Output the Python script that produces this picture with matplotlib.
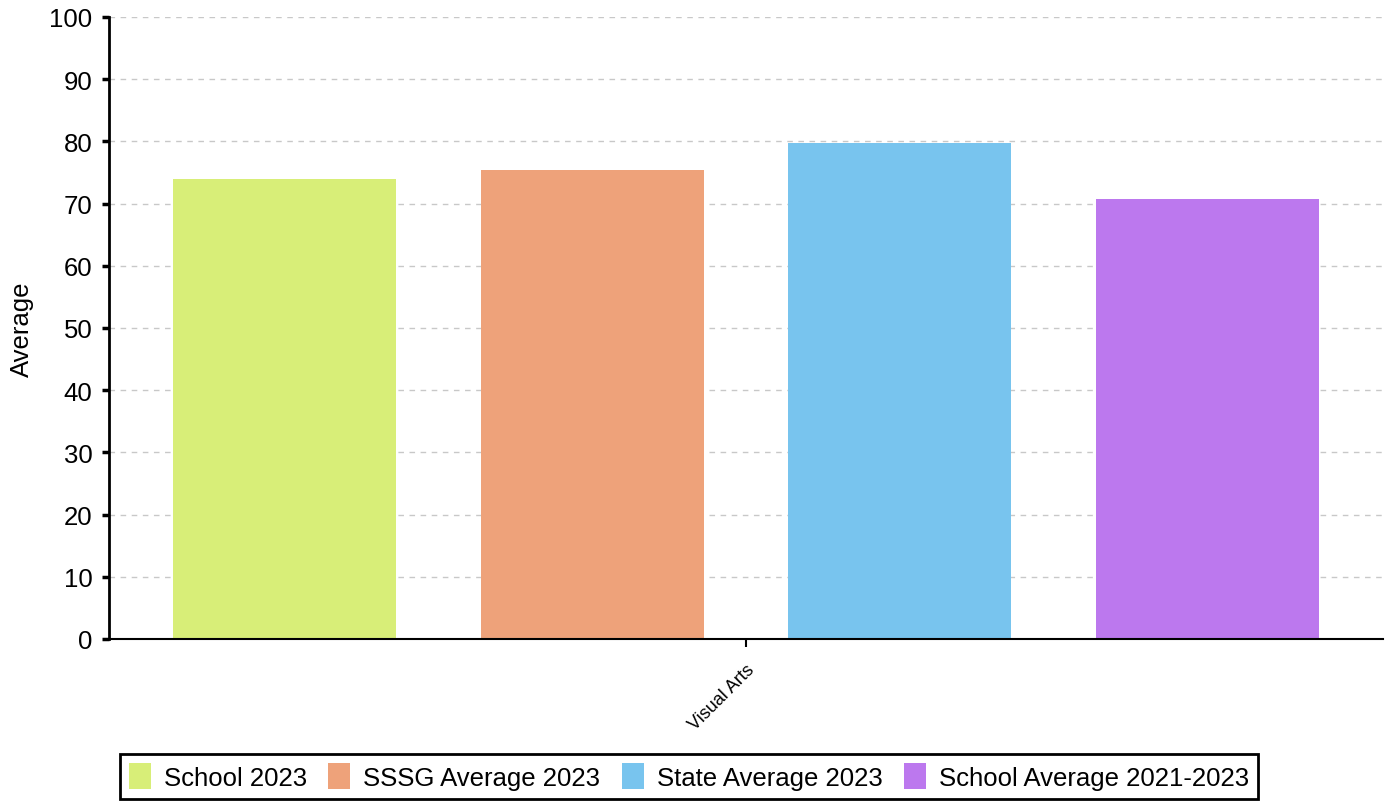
import matplotlib
matplotlib.use("Agg")
import matplotlib.pyplot as plt
import numpy as np

plt.rcParams['font.family'] = ['Liberation Sans', 'DejaVu Sans']

# data
subject = "Visual Arts"
series = ["School 2023", "SSSG Average 2023", "State Average 2023", "School Average 2021-2023"]
values = [74.0, 75.4, 79.7, 70.7]
colors = ["#D8EE78", "#EEA27A", "#78C4EE", "#BC78EE"]

fig = plt.figure(figsize=(13.91, 8.03), dpi=100)
ax = fig.add_axes([0.0784, 0.203, 0.9158, 0.7746])

x = np.arange(len(series))
for i in range(len(series)):
    ax.bar(x[i], values[i], width=0.725, color=colors[i], label=series[i], zorder=2)

ax.set_xlim(-0.571, 3.571)
ax.set_ylim(0, 100)
ax.set_yticks(np.arange(0, 101, 10))
ax.set_xticks([1.5])
ax.set_xticklabels([subject], rotation=45, ha='right', rotation_mode='anchor', fontsize=13)

ax.grid(axis='y', linestyle=(0, (4, 4)), color='#c8c8c8', linewidth=1, zorder=0)
ax.set_axisbelow(True)

for s in ['top', 'right']:
    ax.spines[s].set_visible(False)
ax.spines['left'].set_linewidth(2)
ax.spines['bottom'].set_linewidth(1.5)
ax.tick_params(axis='y', labelsize=18.5, width=2.5, length=5, pad=7)
ax.tick_params(axis='x', width=1.5, length=6, pad=10)
ax.set_ylabel("Average", fontsize=18.5, labelpad=11)

leg = fig.legend(loc='center', bbox_to_anchor=(0.4953, 0.0318), ncol=4, fontsize=18.5,
                 frameon=True, fancybox=False, framealpha=1, handlelength=0.85,
                 handleheight=1.15, handletextpad=0.5, columnspacing=0.85, borderpad=0.35)
leg.get_frame().set_edgecolor('black')
leg.get_frame().set_linewidth(2)

fig.savefig("out.png", dpi=100)
